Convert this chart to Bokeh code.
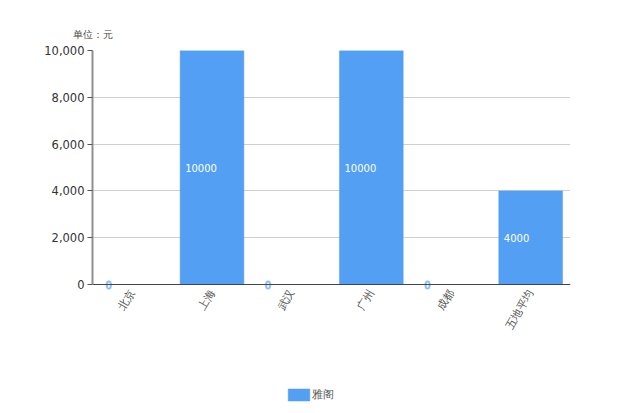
from bokeh.embed import file_html
from bokeh.resources import INLINE
from bokeh.plotting import figure
from bokeh.models import ColumnDataSource, Legend, LegendItem, NumeralTickFormatter, FixedTicker, Range1d
from bokeh.core.properties import value
from bokeh.transform import dodge

cities = ["北京", "上海", "武汉", "广州", "成都", "五地平均"]
prices = [0, 10000, 0, 10000, 0, 4000]
y_ticks = [0, 2000, 4000, 6000, 8000, 10000]
series_name = "雅阁"
unit_text = "单位：元"

FONT = "DejaVu Sans"
BLUE = "#529FF3"
W, H = 604, 405
TOP, ZERO_Y = 50, 284          # canvas pixels of the 10,000 and 0 lines
Y_MAX = max(y_ticks)
per_px = Y_MAX / (ZERO_Y - TOP)

src = ColumnDataSource(dict(
    city=cities, price=prices,
    mid=[v / 2 for v in prices],
    text=[str(v) for v in prices],
    outline=["#8CBFF7" if v == 0 else None for v in prices],
))

# The frame runs to the canvas bottom so that the legend below the axis is not clipped.
p = figure(width=W, height=H, x_range=cities, y_range=Range1d(-(H - ZERO_Y) * per_px, Y_MAX),
           output_backend="svg", toolbar_location=None,
           min_border_left=92, min_border_right=34, min_border_top=TOP, min_border_bottom=0)
p.outline_line_color = None
p.xgrid.grid_line_color = None
p.ygrid.grid_line_color = "#d0d0d0"
p.ygrid.ticker = FixedTicker(ticks=y_ticks)

p.title.text = unit_text
p.title.align = "left"
p.title.offset = -20
p.title.standoff = 21
p.title.text_font = FONT
p.title.text_font_size = "10px"
p.title.text_font_style = "normal"
p.title.text_color = "#444444"

p.yaxis.ticker = FixedTicker(ticks=y_ticks)
p.yaxis.bounds = (0, Y_MAX)
p.yaxis.formatter = NumeralTickFormatter(format="0,0")
p.yaxis.major_label_text_font = FONT
p.yaxis.major_label_text_font_size = "11.5px"
p.yaxis.major_label_text_color = "#333333"
p.yaxis.major_label_standoff = 3
p.yaxis.axis_line_color = "#8f8f8f"
p.yaxis.axis_line_width = 2
p.yaxis.major_tick_line_color = "#555555"
p.yaxis.major_tick_out = 5
p.yaxis.major_tick_in = 0
p.yaxis.minor_tick_line_color = None

p.xaxis.fixed_location = 0
p.xaxis.major_label_orientation = 1.05
p.xaxis.major_label_text_font = FONT
p.xaxis.major_label_text_font_size = "11px"
p.xaxis.major_label_text_color = "#555555"
p.xaxis.axis_line_color = "#444444"
p.xaxis.major_tick_line_color = None
p.xaxis.minor_tick_line_color = None
p.xaxis.major_label_standoff = 0

bars = p.vbar(x="city", top="price", bottom=0, width=0.8, source=src,
              fill_color=BLUE, line_color=BLUE, line_width=0.5)

p.text(x=dodge("city", -0.4, range=p.x_range), y="mid", text="text", source=src,
       x_offset=5, text_align="left", text_baseline="middle",
       text_font=value(FONT), text_font_size="10px", text_color="white",
       text_outline_color="outline")

legend = Legend(items=[LegendItem(label=series_name, renderers=[bars])],
                location=(192.6, 3), orientation="horizontal", border_line_color=None,
                background_fill_alpha=0, glyph_width=27, glyph_height=15, label_standoff=0,
                label_text_font=FONT, label_text_font_size="10.5px", label_text_color="#555555",
                margin=0, padding=0)
p.add_layout(legend)

open("out.html", "w").write(file_html(p, INLINE))
